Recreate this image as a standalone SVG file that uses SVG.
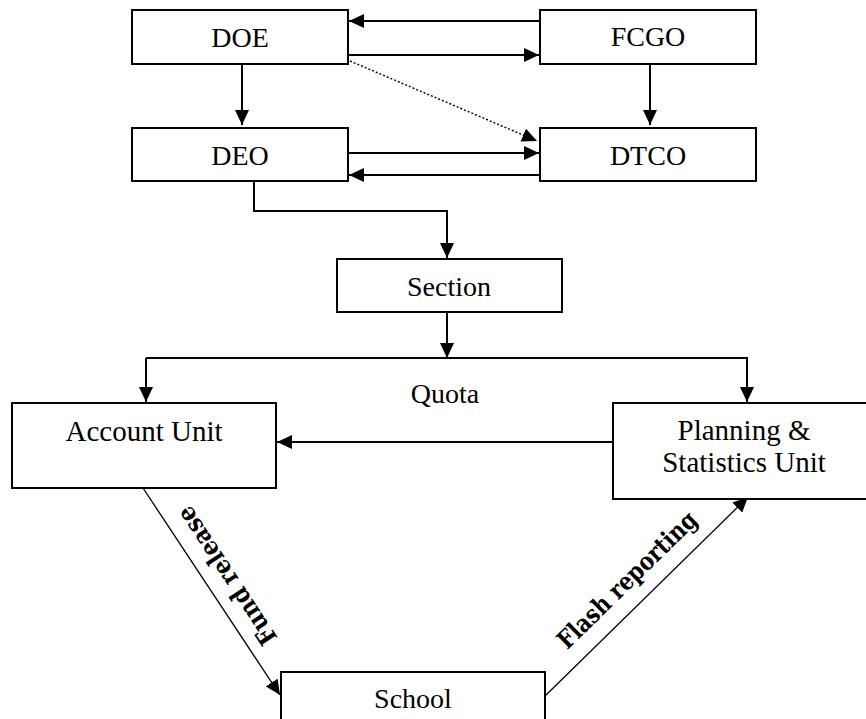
<svg xmlns="http://www.w3.org/2000/svg" width="866" height="719" viewBox="0 0 866 719">
<style>
.box{fill:#fff;stroke:#000;stroke-width:2}
.t{font-family:"Liberation Serif","Times New Roman",serif;font-size:28px;fill:#000;text-anchor:middle}
.c{fill:none;stroke:#000;stroke-width:2}
.d{fill:none;stroke:#000;stroke-width:1.3}
.dot{fill:none;stroke:#000;stroke-width:1.4;stroke-dasharray:2 2}
.lbl{font-family:"DejaVu Serif",serif;font-weight:bold;font-size:25px;fill:#000;text-anchor:middle}
</style>
<defs>
<marker id="ah" markerUnits="userSpaceOnUse" markerWidth="15" markerHeight="14" refX="15" refY="7" orient="auto" viewBox="0 0 15 14">
<path d="M0,0 L15,7 L0,14 z" fill="#000"/>
</marker>
</defs>
<rect width="866" height="719" fill="#fff"/>
<g id="connectors">
<line class="c" x1="540" y1="21" x2="349" y2="21" marker-end="url(#ah)"/>
<line class="c" x1="348" y1="55" x2="539" y2="55" marker-end="url(#ah)"/>
<line class="c" x1="242" y1="64" x2="242" y2="125" marker-end="url(#ah)"/>
<line class="c" x1="650" y1="64" x2="650" y2="125" marker-end="url(#ah)"/>
<line class="dot" x1="350" y1="61" x2="537" y2="141" marker-end="url(#ah)"/>
<line class="c" x1="348" y1="153" x2="539" y2="153" marker-end="url(#ah)"/>
<line class="c" x1="540" y1="175" x2="349" y2="175" marker-end="url(#ah)"/>
<polyline class="c" points="254,181 254,211 447,211 447,258" marker-end="url(#ah)"/>
<line class="c" x1="447" y1="312" x2="447" y2="358" marker-end="url(#ah)"/>
<polyline class="c" points="146,358 747,358 747,402" marker-end="url(#ah)"/>
<line class="c" x1="146" y1="358" x2="146" y2="402" marker-end="url(#ah)"/>
<line class="c" x1="613" y1="442" x2="277" y2="442" marker-end="url(#ah)"/>
<line class="d" x1="143" y1="488" x2="280" y2="695" marker-end="url(#ah)"/>
<line class="d" x1="543" y1="698" x2="748" y2="497" marker-end="url(#ah)"/>
<text class="t" x="445" y="403">Quota</text>
<text class="lbl" transform="translate(234,571) rotate(-123.4)" textLength="160" lengthAdjust="spacingAndGlyphs">Fund release</text>
<text class="lbl" transform="translate(633,586) rotate(-44.4)" textLength="184" lengthAdjust="spacingAndGlyphs">Flash reporting</text>
</g>
<g id="doe"><rect class="box" x="132" y="10" width="216" height="54"/><text class="t" x="240" y="47">DOE</text></g>
<g id="fcgo"><rect class="box" x="540" y="10" width="216" height="54"/><text class="t" x="648" y="46">FCGO</text></g>
<g id="deo"><rect class="box" x="132" y="128" width="216" height="53"/><text class="t" x="240" y="165">DEO</text></g>
<g id="dtco"><rect class="box" x="540" y="128" width="216" height="53"/><text class="t" x="648" y="165">DTCO</text></g>
<g id="section"><rect class="box" x="337" y="259" width="225" height="53"/><text class="t" x="449" y="296">Section</text></g>
<g id="account"><rect class="box" x="12" y="403" width="264" height="85"/><text class="t" x="144" y="441" style="font-size:29px">Account Unit</text></g>
<g id="planning"><rect class="box" x="613" y="403" width="270" height="96"/><text class="t" x="744" y="440" style="font-size:29px">Planning &amp;</text><text class="t" x="744" y="472" style="font-size:29px">Statistics Unit</text></g>
<g id="school"><rect class="box" x="281" y="672" width="264" height="60"/><text class="t" x="413" y="708">School</text></g>
</svg>
